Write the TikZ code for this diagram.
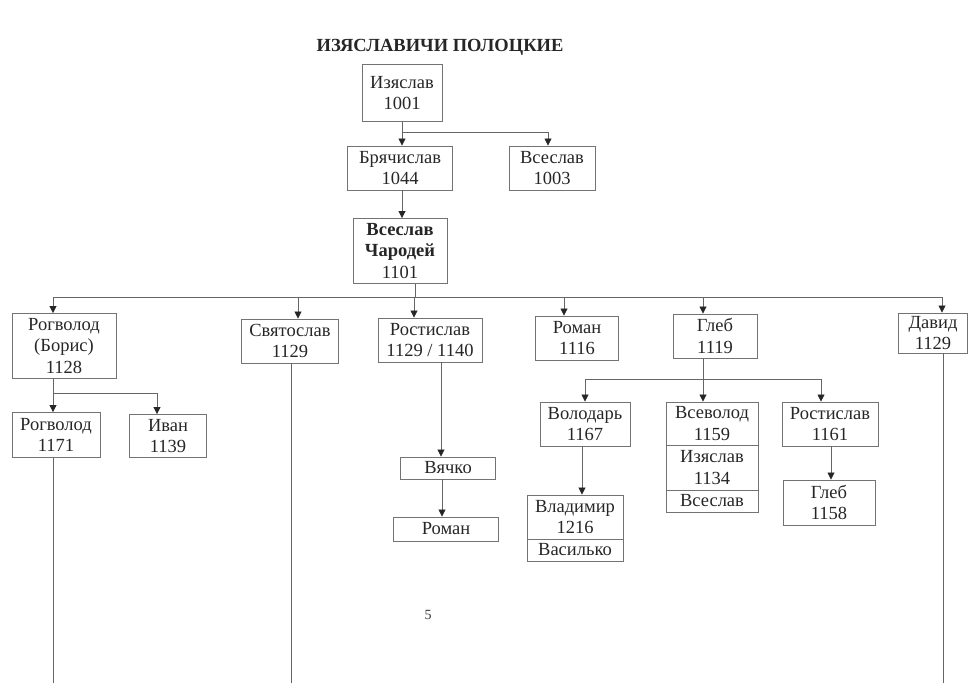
\documentclass[tikz,border=0pt]{standalone}
\usepackage{fontspec}
\setmainfont{Liberation Serif}
\usetikzlibrary{arrows.meta, positioning, calc}
\tikzset{
    boite/.style={draw=black!55, line width=0.9pt, align=center, inner sep=0pt, text=black!85, font=\fontsize{18.5}{21.5}\selectfont},
    trait/.style={draw=black!60, line width=0.8pt},
    fleche/.style={trait, -{Triangle[length=7pt, width=7pt, color=black!85]}},
}

\begin{document}
\begin{tikzpicture}[x=1pt, y=-1pt]
\useasboundingbox (0,0) rectangle (972,683);
% Titre
\node[font=\fontsize{18.5}{21.5}\selectfont\bfseries, text=black!85] (titre) at (440,47) {ИЗЯСЛАВИЧИ ПОЛОЦКИЕ};
% Generations superieures
\node[boite, minimum width=80pt, minimum height=57pt] (izyaslav) at (402,93) {Изяслав\\1001};
\node[boite, minimum width=105pt, minimum height=44pt] (bryachislav) at (400,168) {Брячислав\\1044};
\node[boite, minimum width=86pt, minimum height=44pt] (vseslavA) at (552,168) {Всеслав\\1003};
\node[boite, minimum width=94pt, minimum height=65pt] (charodey) at (400,251) {\textbf{Всеслав}\\\textbf{Чародей}\\1101};
% Fils de Vseslav
\node[boite, minimum width=104pt, minimum height=65pt] (rogvolod) at (64,346) {Рогволод\\(Борис)\\1128};
\node[boite, minimum width=97pt, minimum height=44pt] (svyatoslav) at (290,341) {Святослав\\1129};
\node[boite, minimum width=104pt, minimum height=44pt] (rostislav) at (430,340) {Ростислав\\1129 / 1140};
\node[boite, minimum width=83pt, minimum height=44pt] (roman) at (577,338) {Роман\\1116};
\node[boite, minimum width=84pt, minimum height=44pt] (gleb) at (715,336) {Глеб\\1119};
\node[boite, minimum width=69pt, minimum height=40pt] (david) at (933,333) {Давид\\1129};
% Petits-fils
\node[boite, minimum width=88pt, minimum height=45pt] (rogvolod2) at (56,435) {Рогволод\\1171};
\node[boite, minimum width=77pt, minimum height=43pt] (ivan) at (168,436) {Иван\\1139};
\node[boite, minimum width=95pt, minimum height=22pt] (vyachko) at (448,468) {Вячко};
\node[boite, minimum width=105pt, minimum height=24pt] (roman2) at (446,529) {Роман};
\node[boite, minimum width=90pt, minimum height=44pt] (volodar) at (585,424) {Володарь\\1167};
\node[boite, minimum width=92pt, minimum height=43pt] (vsevolod) at (712,423.5) {Всеволод\\1159};
\node[boite, minimum width=92pt, minimum height=45pt] (izyaslav2) at (712,467.5) {Изяслав\\1134};
\node[boite, minimum width=92pt, minimum height=22pt] (vseslavB) at (712,501) {Всеслав};
\node[boite, minimum width=96pt, minimum height=44pt] (rostislav2) at (830,424) {Ростислав\\1161};
\node[boite, minimum width=92pt, minimum height=45pt] (gleb2) at (829,502.5) {Глеб\\1158};
\node[boite, minimum width=96pt, minimum height=44pt] (vladimir) at (575,517) {Владимир\\1216};
\node[boite, minimum width=96pt, minimum height=22pt] (vasilko) at (575,550) {Василько};
% Numero de page
\node[font=\fontsize{14}{16}\selectfont, text=black!80] (page) at (428,615) {5};

% Izyaslav -> fils
\coordinate (b1) at (402,132);
\draw[trait] (izyaslav.south) -- (b1);
\draw[fleche] (b1) -- (bryachislav.north -| b1);
\draw[fleche] (b1) -| ([xshift=-4pt]vseslavA.north);
\draw[fleche] ([xshift=2pt]bryachislav.south) -- ([xshift=2pt]bryachislav.south |- charodey.north);
% Vseslav Charodey -> fils
\coordinate (bus) at (415,297);
\draw[trait] ([xshift=15pt]charodey.south) -- (bus);
\draw[trait] ([xshift=-11pt]rogvolod.north |- bus) -- ([xshift=9pt]david.north |- bus);
\foreach \fils/\dx in {rogvolod/-11, svyatoslav/8, rostislav/-16, roman/-13, gleb/-12, david/9}
  \draw[fleche] ([xshift=\dx pt]\fils.north |- bus) -- ([xshift=\dx pt]\fils.north);
% Rogvolod -> fils
\coordinate (b2) at (53,393);
\draw[trait] ([xshift=-11pt]rogvolod.south) -- (b2);
\draw[fleche] (b2) -- ([xshift=-3pt]rogvolod2.north);
\draw[fleche] (b2) -| ([xshift=-11pt]ivan.north);
% Rostislav -> Vyachko -> Roman
\draw[fleche] ([xshift=11pt]rostislav.south) -- ([xshift=11pt]rostislav.south |- vyachko.north);
\draw[fleche] ([xshift=-6pt]vyachko.south) -- ([xshift=-6pt]vyachko.south |- roman2.north);
% Gleb -> fils
\coordinate (b3) at (703,379);
\draw[trait] ([xshift=-12pt]gleb.south) -- (b3);
\draw[trait] (volodar.north |- b3) -- ([xshift=-9pt]rostislav2.north |- b3);
\foreach \fils/\dx in {volodar/0, vsevolod/-9, rostislav2/-9}
  \draw[fleche] ([xshift=\dx pt]\fils.north |- b3) -- ([xshift=\dx pt]\fils.north);
\draw[fleche] ([xshift=-3pt]volodar.south) -- ([xshift=-3pt]volodar.south |- vladimir.north);
\draw[fleche] ([xshift=1pt]rostislav2.south) -- ([xshift=1pt]rostislav2.south |- gleb2.north);
% Lignes vers le bas
\coordinate (bas) at (0,683);
\draw[trait] ([xshift=-3pt]rogvolod2.south) -- ([xshift=-3pt]rogvolod2.south |- bas);
\draw[trait] ([xshift=1pt]svyatoslav.south) -- ([xshift=1pt]svyatoslav.south |- bas);
\draw[trait] ([xshift=10pt]david.south) -- ([xshift=10pt]david.south |- bas);
\end{tikzpicture}
\end{document}
